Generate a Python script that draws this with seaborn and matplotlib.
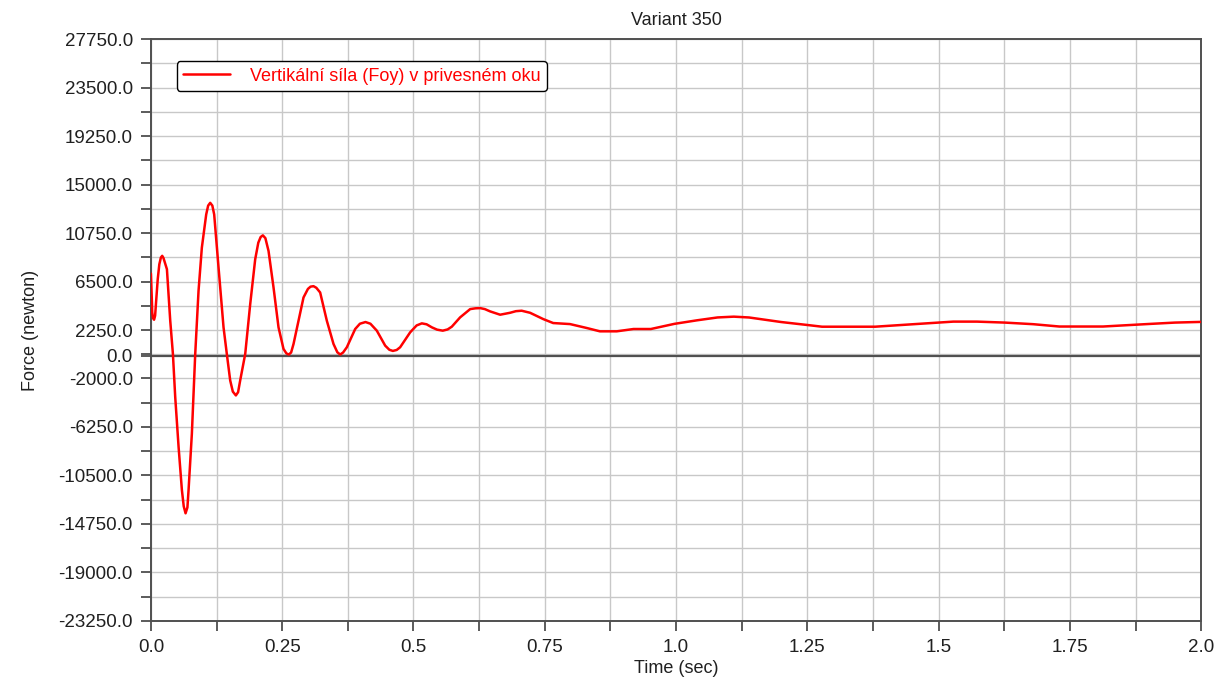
import numpy as np
import pandas as pd
import matplotlib
matplotlib.use("Agg")
import matplotlib.pyplot as plt
import seaborn as sns
from matplotlib.ticker import FixedLocator

# Curve (time in s, force in N)
time_sec = [
    0.000, 0.002, 0.0025, 0.004, 0.006, 0.008, 0.010, 0.013, 0.016, 0.019,
    0.0215, 0.024, 0.027, 0.0305, 0.0368, 0.0419, 0.0463, 0.0527, 0.059, 0.0625,
    0.066, 0.0695, 0.0717, 0.078, 0.0844, 0.0907, 0.097, 0.1053, 0.109, 0.1129,
    0.117, 0.1205, 0.1288, 0.1383, 0.1447, 0.151, 0.156, 0.1618, 0.166, 0.170,
    0.1796, 0.1891, 0.1986, 0.2045, 0.2090, 0.2132, 0.2180, 0.224, 0.2335, 0.243,
    0.2525, 0.2580, 0.2627, 0.2670, 0.2716, 0.2811, 0.2906, 0.2990, 0.3040, 0.3096,
    0.3150, 0.3223, 0.335, 0.3477, 0.3550, 0.3604, 0.3660, 0.3731, 0.389, 0.3980,
    0.4086, 0.4180, 0.4302, 0.4461, 0.4540, 0.4607, 0.4680, 0.4746, 0.4937, 0.5060,
    0.5159, 0.5250, 0.535, 0.5450, 0.5558, 0.565, 0.573, 0.5888, 0.608, 0.618,
    0.627, 0.636, 0.646, 0.665, 0.684, 0.695, 0.706, 0.722, 0.747, 0.766,
    0.798, 0.830, 0.855, 0.887, 0.919, 0.952, 0.997, 1.040, 1.079, 1.110,
    1.139, 1.200, 1.251, 1.278, 1.379, 1.461, 1.528, 1.573, 1.626, 1.680,
    1.730, 1.813, 1.903, 1.950, 2.000,
]
force_n = [
    7200, 4600, 3800, 3300, 3150, 3500, 4800, 6700, 8000, 8600,
    8750, 8550, 8100, 7575, 3065, 155, -3628, -7993, -11776, -13200,
    -13813, -13300, -11776, -6830, 155, 5684, 9467, 12377, 13150, 13395,
    13150, 12377, 7720, 2483, 100, -2173, -3150, -3483, -3200, -2173,
    155, 4520, 8448, 9900, 10400, 10544, 10300, 9176, 5975, 2483,
    592, 200, 100, 280, 1028, 3065, 5102, 5850, 6050, 6091,
    5950, 5538, 3065, 1028, 300, 100, 280, 737, 2337, 2800,
    2948, 2800, 2192, 882, 520, 417, 500, 737, 2046, 2650,
    2832, 2750, 2483, 2280, 2192, 2300, 2541, 3356, 4083, 4150,
    4170, 4080, 3880, 3590, 3760, 3900, 3940, 3760, 3210, 2860,
    2770, 2425, 2134, 2134, 2337, 2337, 2790, 3100, 3350, 3420,
    3348, 2950, 2684, 2539, 2539, 2785, 2985, 2985, 2900, 2760,
    2555, 2555, 2785, 2900, 2960,
]

series_label = "Vertikální síla (Foy) v privesném oku"

x_major = [0.0, 0.25, 0.5, 0.75, 1.0, 1.25, 1.5, 1.75, 2.0]
x_labels = ["0.0", "0.25", "0.5", "0.75", "1.0", "1.25", "1.5", "1.75", "2.0"]
y_major = [-23250, -19000, -14750, -10500, -6250, -2000, 0, 2250, 6500,
           10750, 15000, 19250, 23500, 27750]

df = pd.DataFrame({"Time": time_sec, "Force": force_n})

sns.set_style("ticks")
plt.rcParams["font.family"] = ["Liberation Sans", "DejaVu Sans"]

fig = plt.figure(figsize=(12.17, 6.80), dpi=100)
ax = fig.add_axes([0.124, 0.0868, 0.863, 0.8558])

# grid on major + half steps
x_minor = [v + 0.125 for v in x_major[:-1]]
y_steps = [v for v in y_major if v != 0]
y_minor = [(a + b) / 2 for a, b in zip(y_steps[:-1], y_steps[1:])]
for xv in x_major + x_minor:
    ax.axvline(xv, color="#c8c8c8", lw=1.0, zorder=0)
for yv in y_steps + y_minor:
    ax.axhline(yv, color="#c8c8c8", lw=1.0, zorder=0)
ax.axhline(0, color="#505050", lw=1.6, zorder=1)

sns.lineplot(data=df, x="Time", y="Force", color="red", lw=1.8,
             label=series_label, ax=ax, zorder=3)

ax.set_xlim(0, 2.0)
ax.set_ylim(-23250, 27750)
ax.set_xticks(x_major)
ax.set_xticklabels(x_labels)
ax.xaxis.set_minor_locator(FixedLocator(x_minor))
ax.set_yticks(y_major)
ax.set_yticklabels([f"{v:.1f}" for v in y_major])
ax.yaxis.set_minor_locator(FixedLocator(y_minor))
ax.tick_params(axis="both", which="both", length=7, width=1.2, color="#404040",
               labelsize=13.5, labelcolor="#202020")
ax.tick_params(axis="y", which="major", pad=6)
ax.tick_params(axis="x", which="major", pad=6)

for s in ax.spines.values():
    s.set_color("#505050")
    s.set_linewidth(1.4)

ax.set_xlabel("Time (sec)", fontsize=13, color="#202020", labelpad=3)
ax.set_ylabel("Force (newton)", fontsize=13, color="#202020", labelpad=14)
ax.set_title("Variant 350", fontsize=13, color="#202020", pad=10)

leg = ax.legend(loc="upper left", bbox_to_anchor=(0.016, 0.977), fontsize=13,
                frameon=True, fancybox=True, framealpha=1, edgecolor="black",
                handlelength=2.6, borderpad=0.35, handletextpad=1.1)
leg.get_frame().set_linewidth(1.0)
for t in leg.get_texts():
    t.set_color("red")

fig.savefig("out.png", dpi=100, facecolor="white")
